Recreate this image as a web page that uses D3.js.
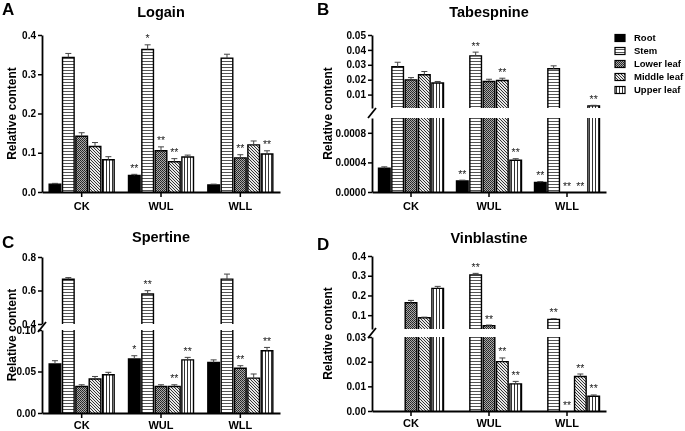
<!DOCTYPE html>
<html><head><meta charset="utf-8">
<script src="https://cdn.jsdelivr.net/npm/d3@7"></script>
<style>
body{margin:0;background:#fff}
svg{will-change:transform}
text{font-family:"Liberation Sans",Arial,sans-serif}
</style></head><body><svg width="685" height="431"></svg>
<script>
const groups = ["CK", "WUL", "WLL"];
const tissues = ["Root", "Stem", "Lower leaf", "Middle leaf", "Upper leaf"];

// values per group (CK, WUL, WLL), one entry per tissue
const logainVal = [[0.020, 0.343, 0.142, 0.116, 0.082], [0.042, 0.363, 0.105, 0.077, 0.089], [0.018, 0.341, 0.087, 0.120, 0.097]];
const logainErr = [[0.002, 0.010, 0.009, 0.010, 0.008], [0.003, 0.012, 0.010, 0.008, 0.005], [0.002, 0.010, 0.008, 0.010, 0.008]];
const logainSig = [["", "", "", "", ""], ["**", "*", "**", "**", ""], ["", "", "**", "", "**"]];

const tabesVal = [[0.00032, 0.0287, 0.0199, 0.0233, 0.0178], [0.00015, 0.0360, 0.0188, 0.0195, 0.00043], [0.00013, 0.0273, 0, 0, 0.0024]];
const tabesErr = [[0.00002, 0.0030, 0.0015, 0.0022, 0.0010], [0.00001, 0.0025, 0.0015, 0.0015, 0.00002], [0.00001, 0.0020, 0, 0, 0.0004]];
const tabesSig = [["", "", "", "", ""], ["**", "**", "", "**", "**"], ["**", "", "**", "**", "**"]];

const spertVal = [[0.059, 0.667, 0.032, 0.041, 0.046], [0.065, 0.579, 0.032, 0.032, 0.064], [0.061, 0.668, 0.054, 0.042, 0.075]];
const spertErr = [[0.004, 0.010, 0.002, 0.003, 0.003], [0.004, 0.020, 0.002, 0.002, 0.003], [0.003, 0.030, 0.003, 0.005, 0.004]];
const spertSig = [["", "", "", "", ""], ["*", "**", "", "**", "**"], ["", "", "**", "", "**"]];

const vinbVal = [[0, 0, 0.163, 0.087, 0.236], [0, 0.304, 0.047, 0.020, 0.011], [0, 0.079, 0, 0.014, 0.006]];
const vinbErr = [[0, 0, 0.012, 0.003, 0.010], [0, 0.008, 0.003, 0.0015, 0.001], [0, 0.003, 0, 0.001, 0.0005]];
const vinbSig = [["", "", "", "", ""], ["", "**", "**", "**", "**"], ["", "**", "**", "**", "**"]];

// tick labels
const logainTicks = [0, 0.1, 0.2, 0.3, 0.4];
const tabesTicksLow = [0, 0.0004, 0.0008];
const tabesTicksHigh = [0.01, 0.02, 0.03, 0.04, 0.05];
const spertTicksLow = [0, 0.05, 0.10];
const spertTicksHigh = [0.4, 0.6, 0.8];
const vinbTicksLow = [0, 0.01, 0.02, 0.03];
const vinbTicksHigh = [0.1, 0.2, 0.3, 0.4];

const svg = d3.select("svg");
const defs = svg.append("defs");

// fill patterns
const pStem = defs.append("pattern").attr("id", "pStem").attr("patternUnits", "userSpaceOnUse").attr("width", 4).attr("height", 3);
pStem.append("rect").attr("width", 4).attr("height", 3).attr("fill", "#fff");
pStem.append("line").attr("x1", 0).attr("x2", 4).attr("y1", 1.5).attr("y2", 1.5).attr("stroke", "#555").attr("stroke-width", 1);

const pLow = defs.append("pattern").attr("id", "pLow").attr("patternUnits", "userSpaceOnUse").attr("width", 2).attr("height", 2);
pLow.append("rect").attr("width", 2).attr("height", 2).attr("fill", "#aaa");
pLow.append("rect").attr("width", 1).attr("height", 1).attr("fill", "#222");
pLow.append("rect").attr("x", 1).attr("y", 1).attr("width", 1).attr("height", 1).attr("fill", "#333");

const pMid = defs.append("pattern").attr("id", "pMid").attr("patternUnits", "userSpaceOnUse").attr("width", 3).attr("height", 3);
pMid.append("rect").attr("width", 3).attr("height", 3).attr("fill", "#e8e8e8");
pMid.append("path").attr("d", "M-1,-1L4,4M-1,2L1,4M2,-1L4,1").attr("stroke", "#333").attr("stroke-width", 1);

const pUp = defs.append("pattern").attr("id", "pUp").attr("patternUnits", "userSpaceOnUse").attr("width", 3).attr("height", 4);
pUp.append("rect").attr("width", 3).attr("height", 4).attr("fill", "#fff");
pUp.append("line").attr("x1", 1.5).attr("x2", 1.5).attr("y1", 0).attr("y2", 4).attr("stroke", "#333").attr("stroke-width", 1);

const fills = ["#000", "url(#pStem)", "url(#pLow)", "url(#pMid)", "url(#pUp)"];

const panels = [
 {letter: "A", title: "Logain", lx: 2, ly: 15, ty: 17, x0: 42, x1: 280, base: 192, labX: 12,
  val: logainVal, err: logainErr, sig: logainSig,
  segs: [{domain: [0, 0.4], range: [192, 35], ticks: logainTicks, fmt: ".1f"}]},
 {letter: "B", title: "Tabespnine", lx: 317, ly: 15, ty: 17, x0: 372, x1: 606, base: 192, labX: 328,
  val: tabesVal, err: tabesErr, sig: tabesSig,
  segs: [{domain: [0, 0.001], range: [192, 118], ticks: tabesTicksLow, fmt: ".4f"},
         {domain: [0.001, 0.05], range: [108, 35], ticks: tabesTicksHigh, fmt: ".2f"}]},
 {letter: "C", title: "Spertine", lx: 2, ly: 248, ty: 242, x0: 42, x1: 280, base: 413, labX: 12,
  val: spertVal, err: spertErr, sig: spertSig,
  segs: [{domain: [0, 0.1], range: [413, 330], ticks: spertTicksLow, fmt: ".2f"},
         {domain: [0.4, 0.8], range: [324, 257], ticks: spertTicksHigh, fmt: ".1f"}]},
 {letter: "D", title: "Vinblastine", lx: 317, ly: 250, ty: 243, x0: 372, x1: 606, base: 411, labX: 328,
  val: vinbVal, err: vinbErr, sig: vinbSig,
  segs: [{domain: [0, 0.03], range: [411, 337], ticks: vinbTicksLow, fmt: ".2f"},
         {domain: [0.03, 0.4], range: [329, 256], ticks: vinbTicksHigh, fmt: ".1f"}]}
];

panels.forEach(p => {
 const g = svg.append("g");
 const x = d3.scaleBand().domain(groups).range([p.x0, p.x1]);
 const sub = d3.scaleBand().domain(tissues).range([-32.5, 32.5]).paddingInner(0.13);
 const scales = p.segs.map(s => ({s: s, y: d3.scaleLinear().domain(s.domain).range(s.range)}));
 const sigLayer = g.append("g");

 // bars
 groups.forEach((grp, gi) => {
  const cx = x(grp) + x.bandwidth() / 2;
  tissues.forEach((t, ti) => {
   const v = p.val[gi][ti], e = p.err[gi][ti];
   const bx = cx + sub(t), bw = sub.bandwidth();
   let topY = p.base;
   scales.forEach(({s, y}) => {
    if (v <= s.domain[0]) return;
    const inSeg = v <= s.domain[1];
    const y0 = y(s.domain[0]), y1 = y(Math.min(v, s.domain[1]));
    g.append("rect").attr("x", bx).attr("y", y1).attr("width", bw).attr("height", y0 - y1)
     .attr("fill", fills[ti]);
    const path = inSeg
     ? `M${bx},${y0}L${bx},${y1}L${bx + bw},${y1}L${bx + bw},${y0}`
     : `M${bx},${y0}L${bx},${y1}M${bx + bw},${y1}L${bx + bw},${y0}`;
    g.append("path").attr("d", path).attr("fill", "none").attr("stroke", "#000").attr("stroke-width", 1.4);
    if (inSeg) {
     const ye = y(v + e);
     g.append("path")
      .attr("d", `M${bx + bw / 2},${y1}L${bx + bw / 2},${ye}M${bx + bw / 2 - 3},${ye}L${bx + bw / 2 + 3},${ye}`)
      .attr("stroke", "#444").attr("stroke-width", 1).attr("fill", "none");
     topY = ye;
    }
   });
   if (p.sig[gi][ti]) {
    sigLayer.append("text").attr("x", bx + bw / 2).attr("y", topY - 2.5)
     .attr("text-anchor", "middle").attr("font-size", 10.5).attr("fill", "#222")
     .attr("font-family", "DejaVu Sans, sans-serif")
     .text(p.sig[gi][ti]);
   }
  });
 });
 sigLayer.raise();

 // y axis segments
 scales.forEach(({s, y}) => {
  const ax = g.append("g").attr("transform", `translate(${p.x0},0)`)
   .call(d3.axisLeft(y).tickValues(s.ticks).tickFormat(d3.format(s.fmt)).tickSize(4).tickSizeOuter(0));
  ax.select(".domain").attr("stroke-width", 1.8);
  ax.selectAll(".tick line").attr("stroke-width", 1.5);
  ax.selectAll(".tick text").attr("font-size", 10).attr("font-weight", "bold").attr("x", -6)
   .attr("font-family", "Liberation Sans, Arial, sans-serif").attr("fill", "#000");
 });

 // break mark
 if (scales.length > 1) {
  const mid = (p.segs[0].range[1] + p.segs[1].range[0]) / 2;
  g.append("line").attr("x1", p.x0 - 4).attr("y1", mid + 5).attr("x2", p.x0 + 4).attr("y2", mid - 5)
   .attr("stroke", "#000").attr("stroke-width", 1.8);
 }

 // x axis
 const xa = g.append("g").attr("transform", `translate(0,${p.base})`)
  .call(d3.axisBottom(x).tickSize(5).tickSizeOuter(0));
 xa.select(".domain").attr("stroke-width", 1.8);
 xa.selectAll(".tick line").attr("stroke-width", 1.5);
 xa.selectAll(".tick text").attr("font-size", 11).attr("font-weight", "bold").attr("y", p.letter < "C" ? 10 : 8)
  .attr("font-family", "Liberation Sans, Arial, sans-serif").attr("fill", "#000");

 // titles and labels
 g.append("text").attr("x", p.lx).attr("y", p.ly).attr("font-size", 17).attr("font-weight", "bold").text(p.letter);
 g.append("text").attr("x", (p.x0 + p.x1) / 2).attr("y", p.ty).attr("text-anchor", "middle")
  .attr("font-size", 14.5).attr("font-weight", "bold").text(p.title);
 const yMid = (p.segs[0].range[0] + p.segs[p.segs.length - 1].range[1]) / 2;
 g.append("text").attr("transform", `translate(${p.labX},${yMid}) rotate(-90)`).attr("text-anchor", "middle")
  .attr("dy", "0.35em").attr("font-size", 12).attr("font-weight", "bold").text("Relative content");
});

// legend
const legend = svg.append("g").attr("transform", "translate(615,38)");
tissues.forEach((t, i) => {
 const row = legend.append("g").attr("transform", `translate(0,${i * 13})`);
 row.append("rect").attr("x", 0).attr("y", -3.5).attr("width", 10).attr("height", 7)
  .attr("fill", fills[i]).attr("stroke", "#000").attr("stroke-width", 1.2);
 row.append("text").attr("x", 19).attr("y", 0).attr("dy", "0.35em").attr("font-size", 9.5)
  .attr("font-weight", "bold").text(t);
});
</script></body></html>
